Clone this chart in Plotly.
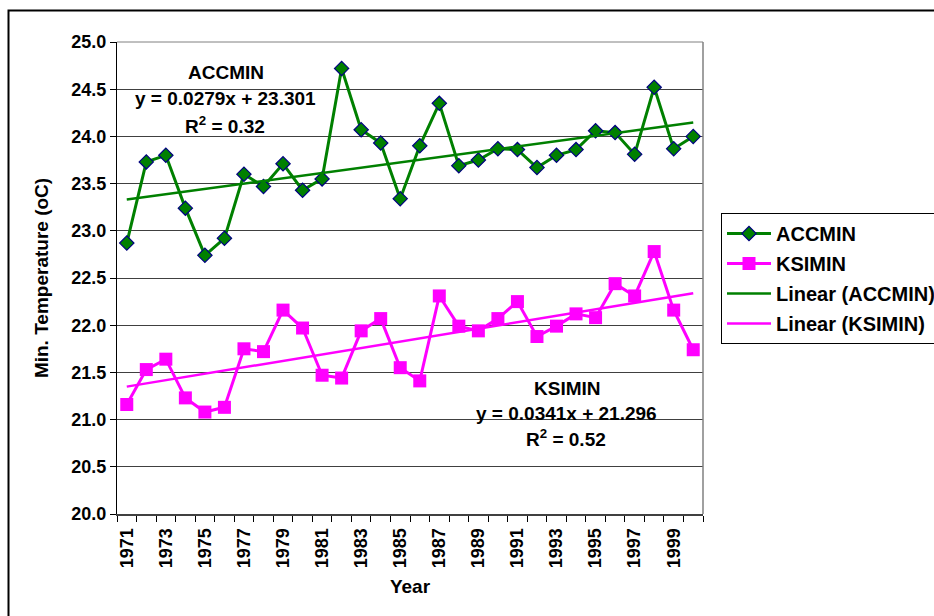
import numpy as np
import plotly.graph_objects as go

years = list(range(1971, 2001))
accmin = [22.87, 23.73, 23.80, 23.24, 22.74, 22.92, 23.60, 23.47, 23.71, 23.43,
          23.55, 24.72, 24.07, 23.93, 23.34, 23.90, 24.35, 23.69, 23.75, 23.87,
          23.86, 23.67, 23.80, 23.86, 24.06, 24.04, 23.81, 24.52, 23.87, 24.00]
ksimin = [21.16, 21.53, 21.64, 21.23, 21.08, 21.13, 21.75, 21.72, 22.16, 21.97,
          21.47, 21.44, 21.94, 22.07, 21.55, 21.41, 22.31, 21.99, 21.94, 22.07,
          22.25, 21.88, 21.99, 22.12, 22.08, 22.44, 22.31, 22.78, 22.16, 21.74]
tick_years = list(range(1971, 2000, 2))
tick_labels = [str(y) for y in tick_years]

FONT = "Liberation Sans, Arial, sans-serif"
GREEN = "#008000"
MAGENTA = "#FF00FF"

idx = np.arange(1, len(years) + 1)
a_fit = np.polyfit(idx, accmin, 1)
k_fit = np.polyfit(idx, ksimin, 1)
a_trend = np.polyval(a_fit, idx)
k_trend = np.polyval(k_fit, idx)

fig = go.Figure()
fig.add_trace(go.Scatter(x=years, y=accmin, name="ACCMIN", mode="lines+markers",
                         line=dict(color=GREEN, width=3),
                         marker=dict(symbol="diamond", size=11, color=GREEN,
                                     line=dict(color="#000080", width=1.2)),
                         legendgroup="a"))
fig.add_trace(go.Scatter(x=years, y=ksimin, name="KSIMIN", mode="lines+markers",
                         line=dict(color=MAGENTA, width=3),
                         marker=dict(symbol="square", size=13, color=MAGENTA,
                                     line=dict(color=MAGENTA, width=0)),
                         legendgroup="b"))
fig.add_trace(go.Scatter(x=years, y=a_trend, name="Linear (ACCMIN)", mode="lines",
                         line=dict(color=GREEN, width=2.5), legendgroup="c"))
fig.add_trace(go.Scatter(x=years, y=k_trend, name="Linear (KSIMIN)", mode="lines",
                         line=dict(color=MAGENTA, width=2.5), legendgroup="d"))

L, R, T, B = 117, 703, 42, 514
W, H = 934, 616
pw, ph = R - L, B - T

def px(x):
    return (x - L) / pw

def py(y):
    return (B - y) / ph

def bold(size):
    return dict(family=FONT, size=size, color="black", weight="bold")

fig.update_layout(
    width=W, height=H,
    margin=dict(l=L, r=W - R, t=T, b=H - B, autoexpand=False),
    plot_bgcolor="white", paper_bgcolor="white",
    font=dict(family=FONT, size=18, color="black"),
    showlegend=True,
    legend=dict(x=px(721), y=py(213), xanchor="left", yanchor="top",
                bordercolor="black", borderwidth=1, bgcolor="white",
                font=bold(20), traceorder="grouped", tracegroupgap=1,
                itemwidth=44),
    xaxis=dict(range=[1970.5, 2000.5], tickmode="array", tickvals=tick_years,
               ticktext=tick_labels, tickangle=-90, ticks="",
               ticklabelstandoff=5,
               tickfont=bold(18), showgrid=False, zeroline=False,
               showline=True, linecolor="#404040", linewidth=2,
               minor=dict(ticks="outside", tickmode="linear", tick0=1970.5, dtick=1,
                          ticklen=6, tickcolor="black", tickwidth=1, showgrid=False),
               title=dict(text="Year", font=bold(19), standoff=12)),
    yaxis=dict(range=[20, 25], dtick=0.5, tickformat=".1f", ticks="outside",
               ticklen=6, tickcolor="black", tickfont=bold(18),
               showgrid=True, gridcolor="#404040", gridwidth=1, zeroline=False,
               showline=True, linecolor="black", linewidth=1,
               title=dict(text="Min. Temperature (oC)", font=bold(19), standoff=17)),
)

shapes = [
    dict(type="line", xref="paper", yref="paper", x0=1, x1=1, y0=0, y1=1,
         line=dict(color="#808080", width=1.5)),
    dict(type="line", xref="paper", yref="paper", x0=0, x1=1, y0=1, y1=1,
         line=dict(color="#808080", width=1)),
    dict(type="rect", xref="paper", yref="paper", x0=px(8.5), x1=px(960),
         y0=py(650), y1=py(10.5), line=dict(color="black", width=2),
         fillcolor="rgba(0,0,0,0)", layer="below"),
]
fig.update_layout(shapes=shapes)

anns = [
    ("ACCMIN", 226, 72),
    ("y = 0.0279x + 23.301", 225, 98),
    ("R<sup>2</sup> = 0.32", 225, 125),
    ("KSIMIN", 567, 388),
    ("y = 0.0341x + 21.296", 566, 413),
    ("R<sup>2</sup> = 0.52", 566, 438),
]
for text, x, y in anns:
    fig.add_annotation(text=text, xref="paper", yref="paper", x=px(x), y=py(y),
                       xanchor="center", yanchor="middle", showarrow=False, font=bold(19))

fig.write_html("out.html", config={"displayModeBar": False},
               post_script="document.body.style.margin='0';")
